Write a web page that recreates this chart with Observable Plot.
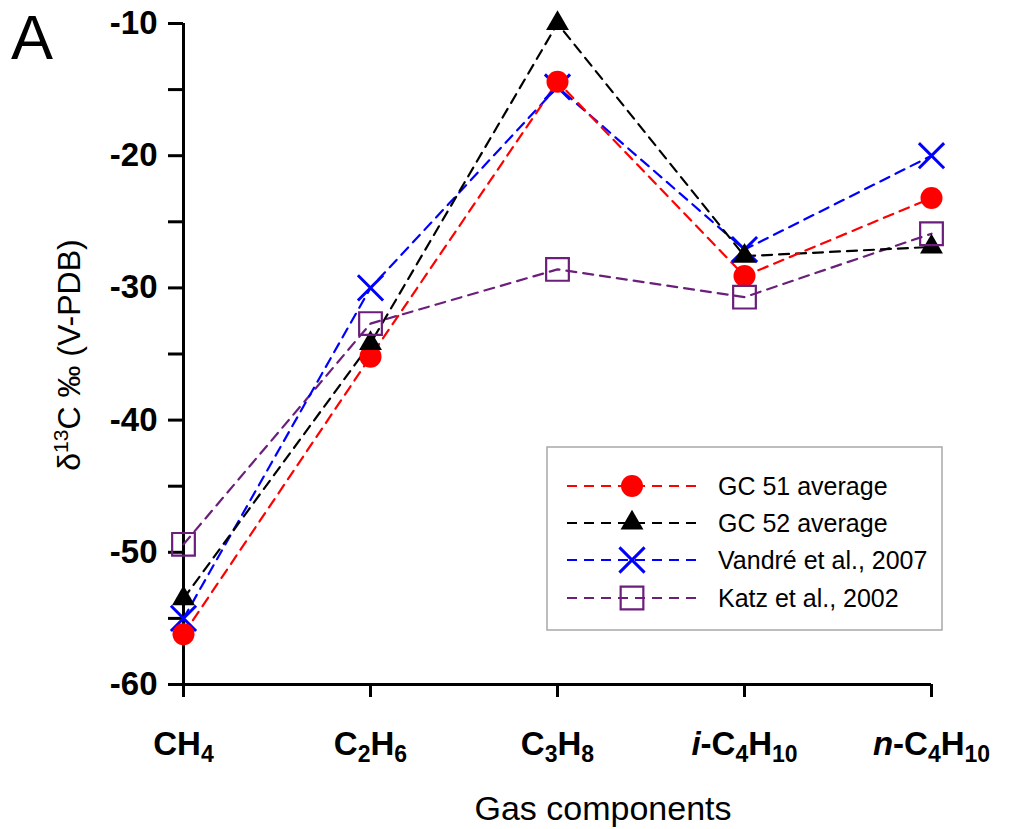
<!DOCTYPE html>
<html>
<head>
<meta charset="utf-8">
<script src="https://cdn.jsdelivr.net/npm/d3@7"></script>
<script src="https://cdn.jsdelivr.net/npm/@observablehq/plot@0.6"></script>
<style>
  html, body { margin: 0; padding: 0; background: #fff; }
  #chart { width: 1016px; height: 829px; }
</style>
</head>
<body>
<div id="chart"></div>
<script>
// ---- data ----
const categories = ["CH4", "C2H6", "C3H8", "i-C4H10", "n-C4H10"];
const seriesNames = ["GC 51 average", "GC 52 average", "Vandré et al., 2007", "Katz et al., 2002"];
const gc51Values   = [-56.2, -35.2, -14.4, -29.1, -23.2];
const gc52Values   = [-53.5, -34.2, -10.0, -27.6, -26.9];
const vandreValues = [-55.0, -30.0, -14.8, -27.1, -20.0];
const katzValues   = [-49.4, -32.7, -28.6, -30.7, -25.9];
const yTicks = [-60, -50, -40, -30, -20, -10];
const yMinorTicks = [-55, -45, -35, -25, -15];
const xTitle = "Gas components";
const panelLabel = "A";

const seriesValues = [gc51Values, gc52Values, vandreValues, katzValues];
const data = seriesNames.flatMap((s, i) =>
  categories.map((c, j) => ({series: s, category: c, value: seriesValues[i][j]})));

// ---- styles ----
const FONT = "'Liberation Sans', Arial, Helvetica, sans-serif";
const styles = [
  {color: "#ff0000", symbol: "circle",   r: 11,   fill: "#ff0000", stroke: "none",    sw: 0},
  {color: "#000000", symbol: "triangle", r: 8.5,  fill: "#000000", stroke: "none",    sw: 0},
  {color: "#0000ff", symbol: "times",    r: 11.5, fill: "none",    stroke: "#0000ff", sw: 3},
  {color: "#6b1f7b", symbol: "square",   r: 12.8, fill: "none",    stroke: "#6b1f7b", sw: 2.2}
];
const d3Symbols = {circle: d3.symbolCircle, triangle: d3.symbolTriangle, times: d3.symbolTimes, square: d3.symbolSquare};
const dash = "10,7";

const lineOrder = [3, 2, 1, 0];
const dotOrder = [2, 0, 1, 3];

const yAxisLine = [{x: categories[0], y1: yTicks[0], y2: yTicks[yTicks.length - 1]}];
const xAxisLine = [{y: yTicks[0], x1: categories[0], x2: categories[categories.length - 1]}];

const marks = [
  // minor y ticks
  Plot.axisY({ticks: yMinorTicks, tickSize: 15, tickFormat: () => "", strokeWidth: 3, label: null}),
  // major y ticks + labels
  Plot.axisY({ticks: yTicks, tickSize: 15, tickPadding: 11, strokeWidth: 3, label: null,
    fontSize: 33, fontWeight: "bold", tickFormat: d => String(d)}),
  // x ticks + labels
  Plot.axisX({tickSize: 13, tickPadding: 34, strokeWidth: 3, label: null,
    fontSize: 33, fontWeight: "bold"}),
  // axis lines
  Plot.ruleX(yAxisLine, {x: "x", y1: "y1", y2: "y2", strokeWidth: 3, stroke: "#000"}),
  Plot.ruleY(xAxisLine, {y: "y", x1: "x1", x2: "x2", strokeWidth: 3, stroke: "#000"}),
  ...lineOrder.map(i => Plot.line(data.filter(d => d.series === seriesNames[i]), {
    x: "category", y: "value", stroke: styles[i].color, strokeWidth: 2.2, strokeDasharray: dash
  })),
  ...dotOrder.map(i => Plot.dot(data.filter(d => d.series === seriesNames[i]), {
    x: "category", y: "value", symbol: styles[i].symbol, r: styles[i].r,
    fill: styles[i].fill, stroke: styles[i].stroke, strokeWidth: styles[i].sw
  }))
];

const chart = Plot.plot({
  width: 1016,
  height: 829,
  marginLeft: 183,
  marginRight: 85,
  marginTop: 23,
  marginBottom: 145,
  style: {fontFamily: FONT, background: "#fff", color: "#000", overflow: "visible"},
  x: {type: "point", domain: categories, padding: 0},
  y: {domain: [yTicks[0], yTicks[yTicks.length - 1]]},
  marks
});
document.getElementById("chart").appendChild(chart);

const svg = d3.select(chart);

// rich x tick labels (subscripts, italic prefixes)
svg.selectAll('g[aria-label="x-axis tick label"] text').each(function() {
  const t = d3.select(this);
  const label = this.textContent;
  t.text("");
  let rest = label;
  const m = rest.match(/^([a-z])-/);
  if (m) {
    t.append("tspan").attr("font-style", "italic").text(m[1]);
    rest = "-" + rest.slice(2);
  }
  let shifted = false;
  rest.split(/(\d+)/).filter(s => s.length).forEach(part => {
    const sp = t.append("tspan");
    if (/^\d+$/.test(part)) {
      sp.attr("font-size", "23px").attr("dy", 7).text(part);
      shifted = true;
    } else {
      if (shifted) { sp.attr("dy", -7); shifted = false; }
      sp.text(part);
    }
  });
});

// y axis title with superscript
const yt = svg.append("text")
  .attr("transform", "translate(80,355) rotate(-90)")
  .attr("text-anchor", "middle")
  .attr("font-family", FONT)
  .attr("font-size", 32)
  .attr("fill", "#000");
yt.append("tspan").text("δ");
yt.append("tspan").attr("font-size", "21px").attr("dy", -12).text("13");
yt.append("tspan").attr("dy", 12).text("C ‰ (V-PDB)");

// x axis title
svg.append("text")
  .attr("x", 603).attr("y", 820)
  .attr("text-anchor", "middle")
  .attr("font-family", FONT)
  .attr("font-size", 34)
  .attr("fill", "#000")
  .text(xTitle);

// panel label
svg.append("text")
  .attr("x", 11).attr("y", 59)
  .attr("text-anchor", "start")
  .attr("font-family", FONT)
  .attr("font-size", 63)
  .attr("fill", "#000")
  .text(panelLabel);

// legend
const lg = svg.append("g");
lg.append("rect")
  .attr("x", 547).attr("y", 447).attr("width", 395).attr("height", 183)
  .attr("fill", "#fff").attr("stroke", "#a8a8a8").attr("stroke-width", 1.5);
const rowY = [486, 523, 560, 598];
seriesNames.forEach((name, i) => {
  const st = styles[i];
  const y = rowY[i];
  lg.append("line")
    .attr("x1", 567).attr("x2", 700).attr("y1", y).attr("y2", y)
    .attr("stroke", st.color).attr("stroke-width", 2.2).attr("stroke-dasharray", dash);
  lg.append("path")
    .attr("transform", `translate(632,${y})`)
    .attr("d", d3.symbol(d3Symbols[st.symbol], Math.PI * st.r * st.r)())
    .attr("fill", st.fill).attr("stroke", st.stroke).attr("stroke-width", st.sw);
  lg.append("text")
    .attr("x", 718).attr("y", y).attr("dy", "0.35em")
    .attr("text-anchor", "start")
    .attr("font-family", FONT).attr("font-size", 25).attr("fill", "#000")
    .text(name);
});
</script>
</body>
</html>
